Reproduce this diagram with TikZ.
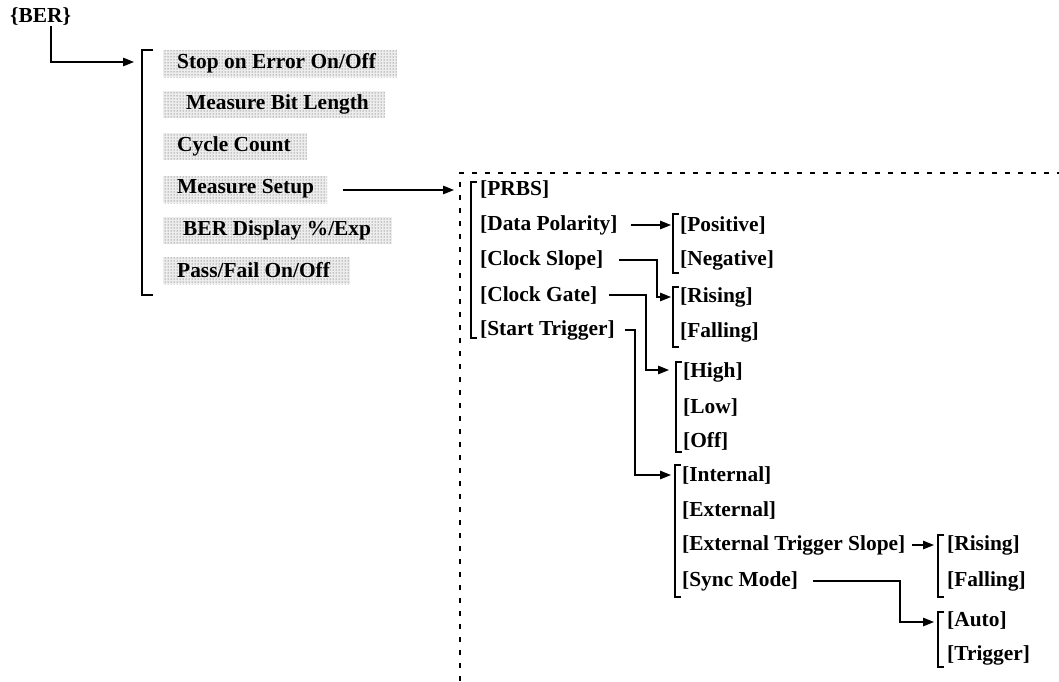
\documentclass[tikz,border=0pt]{standalone}
\usepackage{fontspec}
\setmainfont{Liberation Serif}
\usetikzlibrary{arrows.meta,patterns}
\begin{document}
\begin{tikzpicture}[x=1pt,y=-1pt,
  lbl/.style={anchor=west, inner sep=0pt, font=\bfseries\fontsize{21.4}{24}\selectfont},
  conn/.style={line width=1.3pt},
  arr/.style={conn, -{Triangle[length=11pt,width=8.5pt]}},
  brk/.style={line width=1.1pt},
  bigbrk/.style={line width=1.6pt},
  shadebg/.style={fill=black!7},
  shadebox/.style={pattern=dots, pattern color=black!75},
  dashbox/.style={line width=1.5pt, dash pattern=on 5pt off 8pt}]
\useasboundingbox (0,0) rectangle (1059,681);

% ---- top item
\node[lbl] (ber) at (10,17) {\{BER\}};
\coordinate (berx) at (51,0);
\coordinate (b1in) at (134,62);
\draw[arr] (ber.south -| berx) |- (b1in);

% ---- main menu bracket
\draw[bigbrk] (153,50) -- (142,50) -- (142,295) -- (153,295);

% shaded boxes
\foreach \ya/\yb/\xr in {50/77/397, 91/118/385, 133/160/307, 176/203/327, 217/244/392, 257/284/350}{
  \fill[shadebg] (163,\ya) rectangle (\xr,\yb);
  \fill[shadebox] (163,\ya) rectangle (\xr,\yb);
}

\node[lbl] (stop) at (177,63)  {Stop on Error On/Off};
\node[lbl] (mbl)  at (186,104) {Measure Bit Length};
\node[lbl] (cyc)  at (177,146) {Cycle Count};
\node[lbl] (ms)   at (177,189) {Measure Setup};
\node[lbl] (berd) at (183,230) {BER Display \%/Exp};
\node[lbl] (pf)   at (177,270) {Pass/Fail On/Off};

% ---- dashed frame
\draw[dashbox] (460,681) -- (460,173) -- (1059,173);

% ---- Measure Setup submenu
\coordinate (msout) at (343,190);
\coordinate (b2in) at (454,190);
\draw[arr] (msout) -- (b2in);
\draw[brk] (477,182) -- (471,182) -- (471,338) -- (477,338);
\node[lbl] (prbs) at (480,190) {[PRBS]};
\node[lbl] (dp)   at (480,225) {[Data Polarity]};
\node[lbl] (cs)   at (480,260) {[Clock Slope]};
\node[lbl] (cg)   at (480,295) {[Clock Gate]};
\node[lbl] (st)   at (480,330) {[Start Trigger]};

% Data Polarity
\coordinate (b3in) at (671,225);
\draw[arr] ([xshift=13pt]dp.east) -- (b3in);
\draw[brk] (679,214) -- (673,214) -- (673,273) -- (679,273);
\node[lbl] (pos) at (680,225) {[Positive]};
\node[lbl] (neg) at (680,260) {[Negative]};

% Clock Slope
\coordinate (csx) at (657,280);
\coordinate (b4in) at (671,297);
\draw[arr] ([xshift=16pt]cs.east) -| (csx) |- (b4in);
\draw[brk] (679,287) -- (673,287) -- (673,347) -- (679,347);
\node[lbl] (ris) at (680,297) {[Rising]};
\node[lbl] (fal) at (680,332) {[Falling]};

% Clock Gate
\coordinate (cgx) at (646,330);
\coordinate (b5in) at (669,370);
\draw[arr] ([xshift=12pt]cg.east) -| (cgx) |- (b5in);
\draw[brk] (682,362) -- (676,362) -- (676,452) -- (682,452);
\node[lbl] (high) at (683,372) {[High]};
\node[lbl] (low)  at (683,407) {[Low]};
\node[lbl] (off)  at (683,441) {[Off]};

% Start Trigger
\coordinate (stx) at (635,400);
\coordinate (b6in) at (671,475);
\draw[arr] ([xshift=10pt]st.east) -| (stx) |- (b6in);
\draw[brk] (681,465) -- (675,465) -- (675,597) -- (681,597);
\node[lbl] (int)  at (682,475) {[Internal]};
\node[lbl] (ext)  at (682,510) {[External]};
\node[lbl] (ets)  at (682,545) {[External Trigger Slope]};
\node[lbl] (sync) at (682,581) {[Sync Mode]};

% External Trigger Slope
\coordinate (b7in) at (934,545);
\draw[arr] ([xshift=7pt]ets.east) -- (b7in);
\draw[brk] (944,535) -- (938,535) -- (938,597) -- (944,597);
\node[lbl] (ris2) at (947,545) {[Rising]};
\node[lbl] (fal2) at (947,581) {[Falling]};

% Sync Mode
\coordinate (syx) at (900,600);
\coordinate (b8in) at (934,622);
\draw[arr] ([xshift=15pt]sync.east) -| (syx) |- (b8in);
\draw[brk] (944,612) -- (938,612) -- (938,667) -- (944,667);
\node[lbl] (auto) at (947,620) {[Auto]};
\node[lbl] (trig) at (947,655) {[Trigger]};
\end{tikzpicture}
\end{document}
